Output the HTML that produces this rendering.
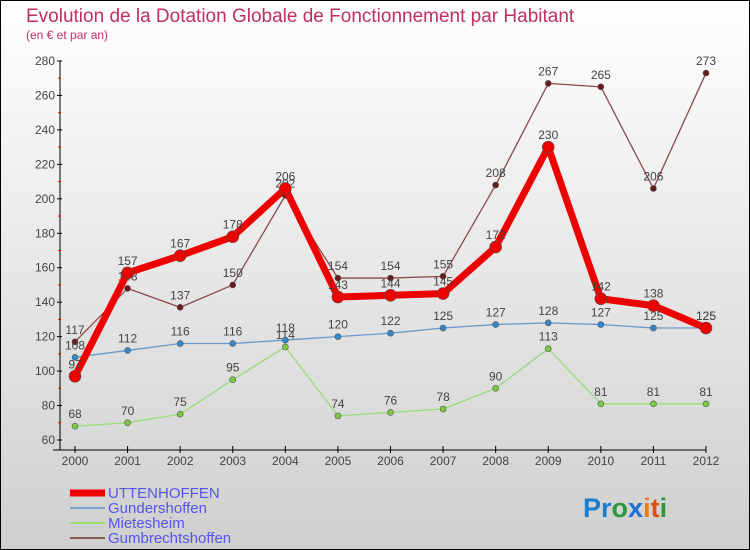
<!DOCTYPE html>
<html><head><meta charset="utf-8"><style>
html,body{margin:0;padding:0}
body{width:750px;height:550px;overflow:hidden;font-family:"Liberation Sans",sans-serif}
svg{display:block}
</style></head><body>
<svg id="chart" width="750" height="550" xmlns="http://www.w3.org/2000/svg">
<defs><linearGradient id="bg" x1="0" y1="0" x2="0" y2="1"><stop offset="0" stop-color="#ffffff"/><stop offset="1" stop-color="#cfcfcf"/></linearGradient></defs>
<rect x="0.5" y="0.5" width="749" height="549" fill="url(#bg)" stroke="#000"/>
<text x="26" y="22" font-size="19" fill="#c0305a">Evolution de la Dotation Globale de Fonctionnement par Habitant</text>
<text x="26" y="39" font-size="12" fill="#c0305a">(en € et par an)</text>
<g id="axes"></g>
<g id="series"></g>
<g id="legend"></g>
<text x="583" y="517" font-size="27" font-weight="bold"><tspan fill="#1a7fd0">Pr</tspan><tspan fill="#2a9a3a">o</tspan><tspan fill="#1a6fd0">x</tspan><tspan fill="#f07a10">i</tspan><tspan fill="#e05010">t</tspan><tspan fill="#2a9a3a">i</tspan></text>
</svg>
<script>
const years = ["2000","2001","2002","2003","2004","2005","2006","2007","2008","2009","2010","2011","2012"];
const yTicks = [60,80,100,120,140,160,180,200,220,240,260,280];
const uttenhoffen = [97,157,167,178,206,143,144,145,172,230,142,138,125];
const gundershoffen = [108,112,116,116,118,120,122,125,127,128,127,125,125];
const mietesheim = [68,70,75,95,114,74,76,78,90,113,81,81,81];
const gumbrechtshoffen = [117,148,137,150,202,154,154,155,208,267,265,206,273];
const seriesNames = ["UTTENHOFFEN","Gundershoffen","Mietesheim","Gumbrechtshoffen"];

const NS="http://www.w3.org/2000/svg";
function xs(i){return 75+i*(706-75)/(years.length-1);}
function ys(v){return 440-(v-60)*(440-61)/220;}
function mk(tag,attrs,parent){const e=document.createElementNS(NS,tag);for(const k in attrs)e.setAttribute(k,attrs[k]);parent.appendChild(e);return e;}
const axes=document.getElementById('axes');
let a=mk('line',{x1:60,y1:61,x2:60,y2:450,stroke:'#000','stroke-width':1},axes);


a=mk('line',{x1:53,y1:450,x2:706,y2:450,stroke:'#000','stroke-width':1},axes);


yTicks.forEach((t,i)=>{
  const y=ys(t);
  mk('line',{x1:57,y1:y,x2:62,y2:y,stroke:'#000'},axes);
  const tx=mk('text',{x:55,y:y+4,'font-size':12,fill:'#444','text-anchor':'end'},axes);
  tx.textContent=t;
  
  
  if(i<yTicks.length-1){const ym=ys(t+10);mk('line',{x1:58,y1:ym,x2:61,y2:ym,stroke:'#e00'},axes);}
});
years.forEach((yr,i)=>{
  const x=xs(i);
  mk('line',{x1:x,y1:446,x2:x,y2:453,stroke:'#000'},axes);
  const tx=mk('text',{x:x,y:465,'font-size':12,fill:'#444','text-anchor':'middle'},axes);
  tx.textContent=yr;
  
  
});
const sg=document.getElementById('series');
function drawSeries(vals,color,lw,r,ptFill,name){
  const g=mk('g',{},sg);
  
  
  mk('polyline',{points:vals.map((v,i)=>xs(i)+','+ys(v)).join(' '),fill:'none',stroke:color,'stroke-width':lw,'stroke-linejoin':'round'},g);
  vals.forEach((v,i)=>{
    const c=mk('circle',{cx:xs(i),cy:ys(v),r:r,fill:ptFill,stroke:'#555','stroke-width':0.6},g);
    
    
    const t=mk('text',{x:xs(i),y:ys(v)-8,'font-size':12,fill:'#444','text-anchor':'middle'},g);
    t.textContent=v;
    
    
  });
}
drawSeries(gumbrechtshoffen,'#8a4a4a',1.3,3,'#6a1a1a','gumbrechtshoffen');
drawSeries(mietesheim,'#99dd77',1.3,3,'#77cc44','mietesheim');
drawSeries(gundershoffen,'#6699cc',1.3,3,'#3388cc','gundershoffen');
drawSeries(uttenhoffen,'#ee0000',7,6,'#ee0000','uttenhoffen');
const lg=document.getElementById('legend');
const lcol=['#ee0000','#7aa7d0','#99dd77','#8a5a5a'];
const lw=[7,2,2,2];
seriesNames.forEach((n,i)=>{
  const y=493+i*15;
  const g=mk('g',{},lg);
  
  
  mk('line',{x1:70,y1:y,x2:105,y2:y,stroke:lcol[i],'stroke-width':lw[i]},g);
  const t=mk('text',{x:108,y:y+5,'font-size':15,fill:'#5555ee'},g);
  t.textContent=n;
});
</script>
</body></html>
